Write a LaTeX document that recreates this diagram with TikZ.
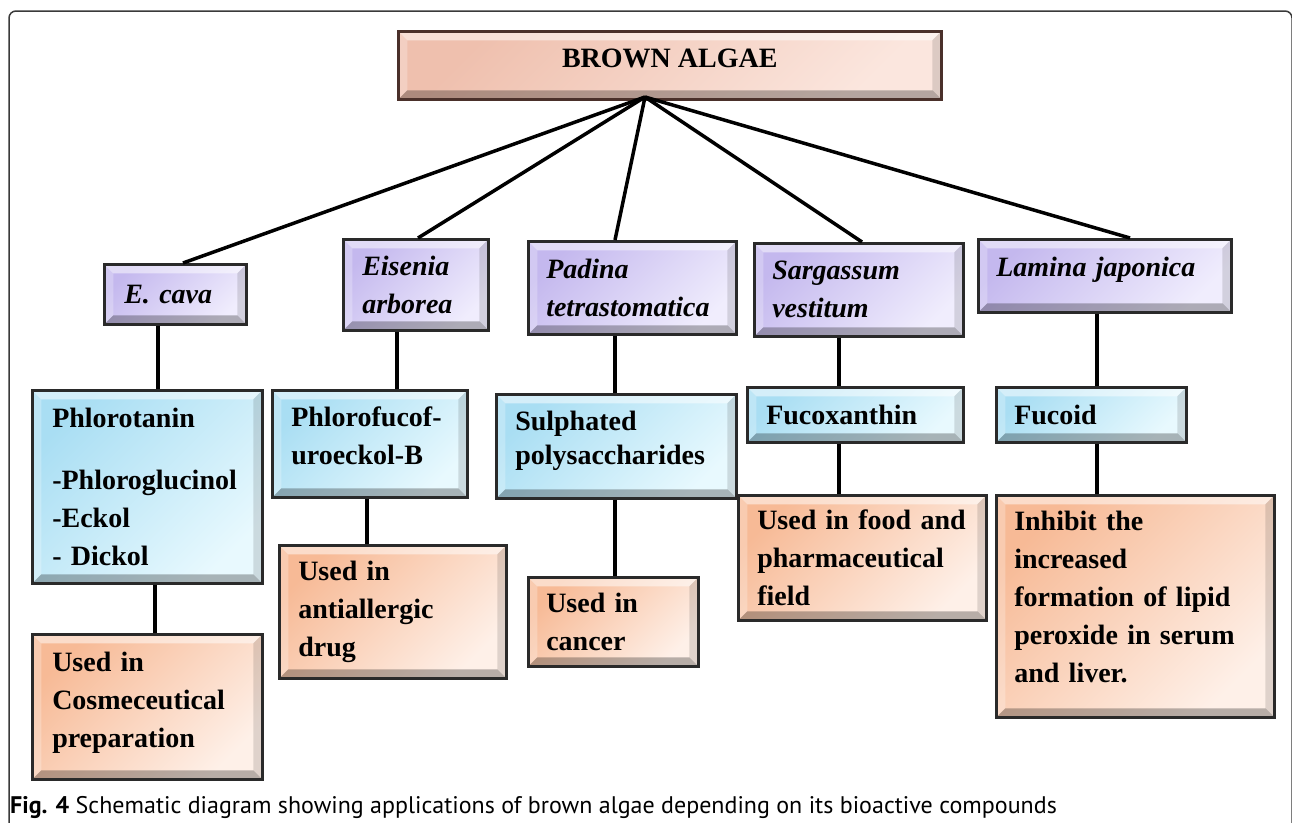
\documentclass[tikz,border=0pt]{standalone}
\usepackage{fontspec}
\setmainfont{Liberation Serif}
\newfontfamily\capfont{PT Sans}
\usetikzlibrary{calc}
\hyphenpenalty=10000
\exhyphenpenalty=10000
\definecolor{boxline}{HTML}{2A2A2A}
\definecolor{topline}{HTML}{4A302A}
\definecolor{frameline}{HTML}{3A3A3A}
\definecolor{puA}{HTML}{C4B8EE}
\definecolor{puB}{HTML}{F0EDFD}
\definecolor{blA}{HTML}{A9DEF3}
\definecolor{blB}{HTML}{E8F9FE}
\definecolor{orA}{HTML}{F7BA96}
\definecolor{orB}{HTML}{FEF0E8}
\definecolor{tpA}{HTML}{EFC0AE}
\definecolor{tpB}{HTML}{FBE6DE}
\tikzset{
  bevel/.style={path picture={
    \path (path picture bounding box.north west) coordinate (pnw)
          (path picture bounding box.north east) coordinate (pne)
          (path picture bounding box.south west) coordinate (psw)
          (path picture bounding box.south east) coordinate (pse);
    \fill[white,opacity=.5] (pnw) -- (pne) -- ($(pne)+(-9pt,-9pt)$) -- ($(pnw)+(9pt,-9pt)$) -- cycle;
    \fill[white,opacity=.25] (pnw) -- ($(pnw)+(9pt,-9pt)$) -- ($(psw)+(9pt,9pt)$) -- (psw) -- cycle;
    \fill[black,opacity=.12] (pne) -- ($(pne)+(-9pt,-9pt)$) -- ($(pse)+(-9pt,9pt)$) -- (pse) -- cycle;
    \fill[black,opacity=.28] (psw) -- ($(psw)+(9pt,9pt)$) -- ($(pse)+(-9pt,9pt)$) -- (pse) -- cycle;
  }},
  box/.style={draw=boxline, line width=2.5pt, inner ysep=0pt, anchor=north west,
    align=left, font=\fontsize{28}{38}\selectfont\bfseries, bevel},
  purplebox/.style={box, top color=puA, bottom color=puB, shading angle=45, font=\fontsize{28}{38}\selectfont\bfseries\itshape},
  bluebox/.style={box, top color=blA, bottom color=blB, shading angle=45},
  orangebox/.style={box, top color=orA, bottom color=orB, shading angle=45},
  topbox/.style={box, draw=topline, top color=tpA, bottom color=tpB, shading angle=45, align=center},
  link/.style={line width=3.5pt, draw=black},
}
\begin{document}
\begin{tikzpicture}[x=1pt,y=-1pt]
\useasboundingbox (0,0) rectangle (1292,822);
\fill[white] (0,0) rectangle (1292,822);
\draw[frameline, line width=1.5pt, rounded corners=7pt] (9,840) -- (9,11) -- (1292,11) -- (1292,840);

% top
\node[topbox, minimum width=543pt, minimum height=68pt, inner xsep=0pt] (top) at (397,30) {BROWN ALGAE\\[-24pt]\mbox{}};
\coordinate (hub) at (645,97);

% species
\node[purplebox, minimum width=142pt, minimum height=60pt, inner xsep=20pt, text width=102pt] (ecava) at (103,263) {E. cava};
\node[purplebox, minimum width=145pt, minimum height=91pt, inner xsep=19pt, text width=107pt] (eisenia) at (342,238) {Eisenia\\arborea};
\node[purplebox, minimum width=208pt, minimum height=93pt, inner xsep=18pt, text width=172pt] (padina) at (527,240) {Padina\\tetrastomatica};
\node[purplebox, minimum width=209pt, minimum height=93pt, inner xsep=18pt, text width=173pt] (sarg) at (753,242) {Sargassum\\vestitum};
\node[purplebox, minimum width=253pt, minimum height=73pt, inner xsep=18pt, text width=217pt] (lamina) at (977,238) {Lamina japonica\\[-20pt]\mbox{}};

% compounds
\node[bluebox, minimum width=230pt, minimum height=193pt, inner xsep=20pt, text width=190pt] (phl) at (31,389) {Phlorotanin\\[24pt]-Phloroglucinol\\-Eckol\\- Dickol};
\node[bluebox, minimum width=195pt, minimum height=107pt, inner xsep=19pt, text width=157pt] (phf) at (271,389) {Phlorofucof-\\uroeckol-B\\[-22pt]\mbox{}};
\node[bluebox, minimum width=240pt, minimum height=104pt, inner xsep=19pt, text width=202pt] (sul) at (495,393) {Sulphated\\[-4pt]polysaccharides\\[-22pt]\mbox{}};
\node[bluebox, minimum width=216pt, minimum height=55pt, inner xsep=19pt, text width=178pt] (fuco) at (746,386) {Fucoxanthin};
\node[bluebox, minimum width=190pt, minimum height=55pt, inner xsep=18pt, text width=154pt] (fucoid) at (995,386) {Fucoid};

% uses
\node[orangebox, minimum width=230pt, minimum height=145pt, inner xsep=20pt, text width=190pt] (cos) at (31,633) {Used in\\Cosmeceutical\\preparation\\[-24pt]\mbox{}};
\node[orangebox, minimum width=227pt, minimum height=133pt, inner xsep=19pt, text width=189pt] (anti) at (278,544) {Used in\\antiallergic\\drug};
\node[orangebox, minimum width=170pt, minimum height=89pt, inner xsep=18pt, text width=134pt] (cancer) at (527,576) {Used in\\cancer};
\node[orangebox, minimum width=248pt, minimum height=125pt, inner xsep=19pt, text width=210pt] (food) at (737,494) {Used in food and\\pharmaceutical\\field};
\node[orangebox, minimum width=278pt, minimum height=222pt, inner xsep=18pt, text width=242pt] (inhibit) at (995,494) {Inhibit the\\increased\\formation of lipid\\peroxide in serum\\and liver.\\[-20pt]\mbox{}};

% connectors
\draw[link] (hub) -- (ecava.north -| 183,0);
\draw[link] (hub) -- (eisenia.north -| 418,0);
\draw[link] (hub) -- (padina.north -| 615,0);
\draw[link] (hub) -- (sarg.north -| 862,0);
\draw[link] (hub) -- (lamina.north -| 1130,0);
\draw[link] (ecava.south -| 158,0) -- (phl.north -| 158,0);
\draw[link] (eisenia.south -| 397,0) -- (phf.north -| 397,0);
\draw[link] (phl.south -| 155,0) -- (cos.north -| 155,0);
\draw[link] (phf.south -| 367,0) -- (anti.north -| 367,0);
\draw[link] (padina.south -| 615,0) -- (sul.north -| 615,0);
\draw[link] (sul.south -| 615,0) -- (cancer.north -| 615,0);
\draw[link] (sarg.south -| 839,0) -- (fuco.north -| 839,0);
\draw[link] (fuco.south -| 839,0) -- (food.north -| 839,0);
\draw[link] (lamina.south -| 1097,0) -- (fucoid.north -| 1097,0);
\draw[link] (fucoid.south -| 1097,0) -- (inhibit.north -| 1097,0);

% caption
\node[anchor=base west, inner sep=0pt, font=\capfont\fontsize{24}{28}\selectfont] (cap) at (10,813) {\textbf{Fig. 4} Schematic diagram showing applications of brown algae depending on its bioactive compounds};
\end{tikzpicture}
\end{document}
